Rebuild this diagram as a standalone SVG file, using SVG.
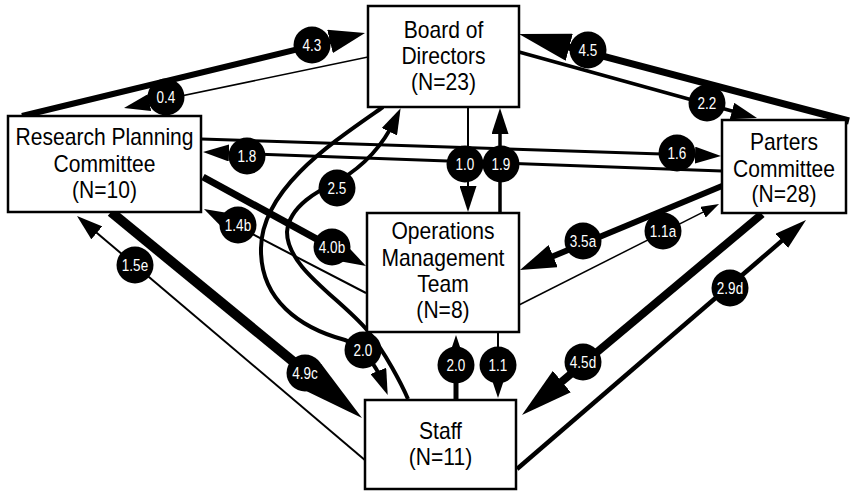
<svg xmlns="http://www.w3.org/2000/svg" width="851" height="491" viewBox="0 0 851 491">
<style>
.box{fill:#fff;stroke:#000;stroke-width:2.5}
.nt{font-family:"Liberation Sans",Arial,sans-serif;font-size:23px;text-anchor:middle;fill:#000}
.bt{font-family:"Liberation Sans",Arial,sans-serif;font-size:16.5px;text-anchor:middle;fill:#fff}
.badge circle{fill:#000;stroke:none}
#connectors path{fill:none;stroke:#000}
</style>
<defs>
<marker id="ms" markerUnits="userSpaceOnUse" viewBox="0 0 18 12" markerWidth="18" markerHeight="12" refX="9" refY="6" orient="auto"><path d="M0,0 L18,6 L0,12 z" fill="#000"/></marker>
<marker id="mm" markerUnits="userSpaceOnUse" viewBox="0 0 26 17" markerWidth="26" markerHeight="17" refX="13" refY="8.5" orient="auto"><path d="M0,0 L26,8.5 L0,17 z" fill="#000"/></marker>
<marker id="mn" markerUnits="userSpaceOnUse" viewBox="0 0 32 19" markerWidth="32" markerHeight="19" refX="16" refY="9.5" orient="auto"><path d="M0,0 L32,9.5 L0,19 z" fill="#000"/></marker>
<marker id="ml" markerUnits="userSpaceOnUse" viewBox="0 0 36 24" markerWidth="36" markerHeight="24" refX="18" refY="12" orient="auto"><path d="M0,0 L36,12 L0,24 z" fill="#000"/></marker>
<marker id="mxl" markerUnits="userSpaceOnUse" viewBox="0 0 52 28" markerWidth="52" markerHeight="28" refX="26" refY="14" orient="auto"><path d="M0,0 L52,14 L0,28 z" fill="#000"/></marker>
<marker id="mtear" markerUnits="userSpaceOnUse" viewBox="0 0 66 32" markerWidth="66" markerHeight="32" refX="33" refY="16" orient="auto"><path d="M0,0 L66,16 L0,32 z" fill="#000"/></marker>
</defs>
<rect x="0" y="0" width="851" height="491" fill="#fff"/>

<g id="connectors">
  <path id="e43" d="M22,116 L347.5,37.2" stroke-width="6" marker-end="url(#ml)"/>
  <path id="e04" d="M368,57 L136.7,105.3" stroke-width="1.5" marker-end="url(#mm)"/>
  <path id="e45" d="M849,121 L544.1,40.6" stroke-width="7" marker-end="url(#mxl)"/>
  <path id="e22" d="M519,52 L744.5,114.5" stroke-width="3.5" marker-end="url(#mm)"/>
  <path id="e18" d="M722,171 L216,152.5" stroke-width="3" marker-end="url(#mm)"/>
  <path id="e16" d="M201,139 L708,155.6" stroke-width="3" marker-end="url(#mm)"/>
  <path id="e10" d="M468,107 L468,199" stroke-width="2" marker-end="url(#mm)"/>
  <path id="e19" d="M500,213 L500,121" stroke-width="3.5" marker-end="url(#mm)"/>
  <path id="e35a" d="M722,186 L536.6,263.1" stroke-width="6" marker-end="url(#ml)"/>
  <path id="e11a" d="M519,305 L711,208.1" stroke-width="1.5" marker-end="url(#ms)"/>
  <path id="e45d" d="M762,214 L541.9,398.3" stroke-width="8" marker-end="url(#mxl)"/>
  <path id="e29d" d="M517,469 L793.9,230.4" stroke-width="4.5" marker-end="url(#mn)"/>
  <path id="e15e" d="M366,461 L86.9,224.4" stroke-width="2" marker-end="url(#mm)"/>
  <path id="e49c" d="M111,212 L336.5,397.1" stroke-width="10" marker-end="url(#mtear)"/>
  <path id="e14b" d="M366,293 L215.5,215" stroke-width="2" marker-end="url(#mm)"/>
  <path id="e40b" d="M203,177 L350.2,257.4" stroke-width="7" marker-end="url(#ml)"/>
  <path id="e20v" d="M456,400 L456,353" stroke-width="5" marker-end="url(#ml)"/>
  <path id="e11v" d="M498,333 L498,380" stroke-width="2" marker-end="url(#ml)"/>
  <path id="e20c" d="M383,107 C333,142 262,188 261,248 C260,300 300,328 345,340 C362,346 376,365 383,383" stroke-width="4" marker-end="url(#mm)"/>
  <path id="e25c" d="M408,399 C402,385 385,352 367,330 C340,298 287,268 287,232 C289,205 320,190 340,180 C365,165 383,145 395,120" stroke-width="4" marker-end="url(#mm)"/>

  <g class="badge" transform="translate(312 45)"><circle r="18.5"/><text class="bt" transform="scale(0.82 1)" y="5.8">4.3</text></g>
  <g class="badge" transform="translate(166 97)"><circle r="18.5"/><text class="bt" transform="scale(0.82 1)" y="5.8">0.4</text></g>
  <g class="badge" transform="translate(588 50)"><circle r="18.5"/><text class="bt" transform="scale(0.82 1)" y="5.8">4.5</text></g>
  <g class="badge" transform="translate(707 103)"><circle r="18.5"/><text class="bt" transform="scale(0.82 1)" y="5.8">2.2</text></g>
  <g class="badge" transform="translate(247 156)"><circle r="18.5"/><text class="bt" transform="scale(0.82 1)" y="5.8">1.8</text></g>
  <g class="badge" transform="translate(677 153)"><circle r="18.5"/><text class="bt" transform="scale(0.82 1)" y="5.8">1.6</text></g>
  <g class="badge" transform="translate(465 164)"><circle r="18.5"/><text class="bt" transform="scale(0.82 1)" y="5.8">1.0</text></g>
  <g class="badge" transform="translate(501 164)"><circle r="18.5"/><text class="bt" transform="scale(0.82 1)" y="5.8">1.9</text></g>
  <g class="badge" transform="translate(337 188)"><circle r="18.5"/><text class="bt" transform="scale(0.82 1)" y="5.8">2.5</text></g>
  <g class="badge" transform="translate(238 225)"><circle r="18.5"/><text class="bt" transform="scale(0.82 1)" y="5.8">1.4b</text></g>
  <g class="badge" transform="translate(332 247)"><circle r="18.5"/><text class="bt" transform="scale(0.82 1)" y="5.8">4.0b</text></g>
  <g class="badge" transform="translate(583 241)"><circle r="18.5"/><text class="bt" transform="scale(0.82 1)" y="5.8">3.5a</text></g>
  <g class="badge" transform="translate(663 231)"><circle r="18.5"/><text class="bt" transform="scale(0.82 1)" y="5.8">1.1a</text></g>
  <g class="badge" transform="translate(135 265)"><circle r="18.5"/><text class="bt" transform="scale(0.82 1)" y="5.8">1.5e</text></g>
  <g class="badge" transform="translate(730 288)"><circle r="18.5"/><text class="bt" transform="scale(0.82 1)" y="5.8">2.9d</text></g>
  <g class="badge" transform="translate(363 350)"><circle r="18.5"/><text class="bt" transform="scale(0.82 1)" y="5.8">2.0</text></g>
  <g class="badge" transform="translate(456 365)"><circle r="18.5"/><text class="bt" transform="scale(0.82 1)" y="5.8">2.0</text></g>
  <g class="badge" transform="translate(498 365)"><circle r="18.5"/><text class="bt" transform="scale(0.82 1)" y="5.8">1.1</text></g>
  <g class="badge" transform="translate(583 362)"><circle r="18.5"/><text class="bt" transform="scale(0.82 1)" y="5.8">4.5d</text></g>
  <g class="badge" transform="translate(305 373)"><circle r="18.5"/><text class="bt" transform="scale(0.82 1)" y="5.8">4.9c</text></g>
</g>

<g id="board">
  <rect class="box" x="368" y="6" width="151" height="101"/>
  <g transform="translate(443.5 0) scale(0.916 1)">
    <text class="nt" x="0" y="38">Board of</text>
    <text class="nt" x="0" y="64">Directors</text>
    <text class="nt" x="0" y="90">(N=23)</text>
  </g>
</g>
<g id="rpc">
  <rect class="box" x="8" y="116" width="193" height="96"/>
  <g transform="translate(104.5 0) scale(0.916 1)">
    <text class="nt" x="0" y="145">Research Planning</text>
    <text class="nt" x="0" y="172">Committee</text>
    <text class="nt" x="0" y="198">(N=10)</text>
  </g>
</g>
<g id="parters">
  <rect class="box" x="722" y="120" width="124" height="93"/>
  <g transform="translate(784 0) scale(0.916 1)">
    <text class="nt" x="0" y="150">Parters</text>
    <text class="nt" x="0" y="177">Committee</text>
    <text class="nt" x="0" y="202">(N=28)</text>
  </g>
</g>
<g id="omt">
  <rect class="box" x="367" y="213" width="152" height="119"/>
  <g transform="translate(443 0) scale(0.916 1)">
    <text class="nt" x="0" y="239">Operations</text>
    <text class="nt" x="0" y="266">Management</text>
    <text class="nt" x="0" y="292">Team</text>
    <text class="nt" x="0" y="318">(N=8)</text>
  </g>
</g>
<g id="staff">
  <rect class="box" x="365" y="400" width="151" height="89"/>
  <g transform="translate(440.5 0) scale(0.916 1)">
    <text class="nt" x="0" y="439">Staff</text>
    <text class="nt" x="0" y="465">(N=11)</text>
  </g>
</g>
</svg>
